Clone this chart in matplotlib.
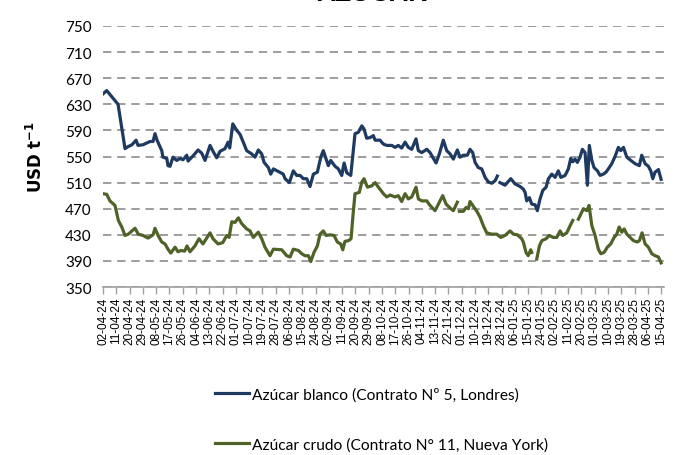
import matplotlib
matplotlib.use("Agg")
import matplotlib.pyplot as plt
import numpy as np
import pandas as pd

# Precios del azucar, USD por tonelada
# dias contados desde el 02-04-2024 (lectura aproximada del grafico original)
inicio = pd.Timestamp("2024-04-02")
fin = pd.Timestamp("2025-04-15")

dias_blanco = [0, 2.5, 10.2, 14.9, 16.9, 19.6, 22.4, 23.7, 27.1, 31.8, 33.9, 35.2, 36.6,
               39.8, 40.6, 43.2, 44.0, 45.4, 47.4, 49.9, 52.2, 54.2, 56.7, 57.6, 61.0,
               64.4, 66.9, 69.1, 72.5, 74.5, 77.0, 79.3, 82.6, 84.7, 85.8, 87.9, 90.6,
               92.8, 95.0, 97.3, 100.7, 103.0, 105.2, 107.5, 109.1, 112.0, 113.6, 115.4,
               118.8, 122.1, 123.3, 126.2, 128.9, 131.2, 133.5, 135.7, 138.0, 140.2,
               142.5, 145.2, 147.5, 149.2, 151.1, 152.6, 154.2, 157.2, 159.4, 161.7,
               163.3, 165.1, 167.8, 170.7, 172.9, 175.3, 176.8, 178.6, 180.9, 183.1,
               184.3, 187.6, 189.9, 192.2, 195.6, 197.8, 200.0, 202.3, 204.6, 206.8,
               209.1, 212.0, 213.6, 215.9, 219.3, 221.5, 223.8, 225.6, 227.8, 230.5,
               232.8, 235.1, 237.3, 240.0, 241.8, 244.1, 246.8, 248.6, 250.4, 252.0,
               254.2, 256.5, 258.8, 261.0, 263.3, 265.6, 267.1, 268.0, 268.9, 272.3,
               276.2, 279.1, 282.5, 284.7, 285.9, 287.0, 288.8, 290.4, 292.7, 294.2,
               296.0, 297.9, 300.1, 301.7, 304.0, 306.2, 308.4, 310.1, 313.0, 315.2,
               316.8, 318.2, 319.7, 321.3, 323.1, 324.7, 326.5, 328.1, 329.4, 331.1,
               332.6, 334.9, 336.7, 338.9, 340.7, 342.3, 344.6, 346.8, 349.1, 350.7,
               352.5, 354.8, 357.5, 360.4, 363.3, 364.9, 367.2, 369.4, 371.0, 372.4,
               373.9, 376.2, 378.0]
blanco = [646, 651, 630, 562, 565, 568, 575, 567, 568, 573, 573, 585, 575,
          559, 549, 547, 536, 535, 549, 544, 547, 545, 552, 543, 551,
          560, 555, 544, 567, 558, 548, 558, 562, 572, 563, 600, 590,
          584, 572, 559, 554, 549, 560, 554, 541, 533, 523, 531,
          527, 523, 516, 510, 528, 521, 521, 516, 516, 504,
          523, 526, 549, 559, 546, 536, 544, 535, 531, 521,
          540, 525, 521, 585, 587, 597, 592, 578, 579, 582,
          575, 575, 569, 567, 567, 564, 567, 563, 572, 564,
          561, 577, 559, 556, 561, 556, 547, 540, 554, 575,
          559, 554, 546, 560, 549, 552, 552, 561, 556, 541,
          533, 531, 518, 511, 509, 513, 520, np.nan, 510, 506,
          516, 508, 504, 500, 495, 482, 487, 477, 476, 467,
          485, 498, 503, 516, 523, 518, 528, 518, 521, 531,
          547, 542, 546, 541, 549, 561, 556, 506, 567, 544,
          533, 528, 521, 523, 526, 531, 539, 550, 564, 559,
          564, 549, 544, 539, 536, 552, 539, 535, 528, 516,
          526, 530, 515]

dias_crudo = [0, 2.5, 4.7, 8.1, 10.4, 12.7, 14.9, 17.1, 21.7, 23.9, 27.1, 30.5, 33.9,
              35.2, 37.3, 39.8, 42.0, 44.0, 45.9, 48.8, 50.8, 52.8, 55.3, 56.9, 58.9,
              62.3, 65.0, 67.7, 72.5, 74.5, 77.9, 81.1, 83.8, 85.4, 87.2, 89.4, 91.7,
              94.0, 97.3, 99.6, 101.8, 105.2, 107.5, 109.7, 113.1, 115.4, 121.1, 124.4,
              126.7, 128.9, 132.3, 134.6, 136.8, 139.1, 140.7, 142.9, 145.2, 147.0,
              149.2, 151.1, 153.8, 156.5, 158.7, 161.0, 162.4, 163.9, 166.2, 168.0,
              169.6, 170.7, 173.6, 175.3, 176.8, 179.1, 182.0, 184.3, 186.5, 187.6,
              189.9, 192.2, 194.4, 197.8, 200.0, 202.3, 204.6, 206.8, 209.1, 212.0,
              213.6, 215.9, 219.3, 221.5, 224.9, 227.8, 230.1, 232.4, 235.1, 237.3,
              240.0, 240.7, 241.4, 244.1, 245.9, 247.5, 248.6, 250.4, 253.2, 255.4,
              257.6, 259.9, 263.3, 266.7, 269.4, 272.3, 275.7, 278.0, 280.7, 283.6,
              284.7, 286.5, 288.0, 289.7, 290.4, 292.0, 293.8, 295.6, 297.2, 300.1,
              302.3, 305.0, 307.4, 309.6, 311.4, 314.1, 316.4, 318.2, 320.0, 322.0,
              325.4, 327.7, 329.2, 331.1, 333.3, 335.5, 337.2, 339.4, 341.6, 343.9,
              346.2, 348.0, 349.6, 351.4, 353.0, 354.8, 357.0, 359.3, 361.9, 363.3,
              365.1, 367.2, 369.4, 371.7, 373.9, 376.2, 378.0]
crudo = [493, 492, 482, 475, 452, 442, 429, 431, 440, 431, 429, 425, 430,
         440, 429, 419, 416, 408, 402, 411, 404, 406, 405, 413, 404,
         413, 424, 416, 433, 424, 416, 418, 429, 426, 450, 449, 456,
         447, 439, 436, 426, 434, 424, 411, 398, 408, 407, 398,
         396, 408, 406, 401, 398, 398, 389, 403, 413, 431,
         436, 429, 430, 429, 419, 416, 407, 420, 421, 424,
         467, 493, 495, 511, 516, 503, 505, 510, 503, 500,
         493, 488, 491, 488, 490, 481, 493, 485, 488, 503,
         485, 482, 482, 475, 467, 480, 490, 477, 471, 467,
         480, np.nan, 466, 466, 472, 470, 481, 475, 466, 457,
         444, 433, 431, 431, 426, 429, 436, 431, 430, 424,
         419, 403, 398, 407, 403, np.nan, 393, 413, 421, 424,
         429, 426, 426, 436, 429, 433, 444, 452, np.nan, 454,
         470, 467, 475, 444, 429, 408, 401, 403, 411, 416,
         426, 431, 442, 434, 439, 431, 426, 421, 419, 421,
         433, 416, 411, 401, 398, 396, 387]

nombre_blanco = "Azúcar blanco (Contrato Nº 5, Londres)"
nombre_crudo = "Azúcar crudo (Contrato N° 11, Nueva York)"

fechas_blanco = inicio + pd.to_timedelta(dias_blanco, unit="D")
fechas_crudo = inicio + pd.to_timedelta(dias_crudo, unit="D")
marcas = pd.date_range(inicio, fin, freq="9D")

fig = plt.figure(figsize=(6.84, 4.56), dpi=100)
ax = fig.add_axes([0.1506, 0.3684, 0.8202, 0.5724])

ax.plot(fechas_blanco, blanco, color="#1f3a60", lw=2.3, label=nombre_blanco)
ax.plot(fechas_crudo, crudo, color="#4f6228", lw=2.3, label=nombre_crudo)

ax.set_ylim(350, 750)
ax.set_yticks(np.arange(350, 751, 40))
ax.set_xlim(inicio, fin + pd.Timedelta(days=2))
ax.set_xticks(marcas)
ax.set_xticklabels([d.strftime("%d-%m-%y") for d in marcas], rotation=90,
                   fontsize=8.5, family="Liberation Sans")

for lab in ax.get_yticklabels():
    lab.set_family("Lato")
    lab.set_fontsize(11)

ax.yaxis.grid(True, color="#8c8c8c", lw=1.2, linestyle=(0, (5, 3.5)))
ax.set_axisbelow(True)
for s in ["top", "right", "left"]:
    ax.spines[s].set_visible(False)
ax.spines["bottom"].set_color("#a0a0a0")
ax.spines["bottom"].set_linewidth(1.2)
ax.tick_params(axis="y", length=0, pad=8)
ax.tick_params(axis="x", direction="out", length=5, color="#a0a0a0", width=1, pad=2)

ax.set_ylabel(r"$\mathbf{USD\ t^{-1}}$", fontsize=12, labelpad=14)

# titulo cortado en el borde superior, como en el original
fig.text(0.544, 0.997, "AZÚCAR", ha="center", va="baseline", fontsize=19,
         weight="bold", family="Liberation Sans")

fig.legend(loc="upper center", bbox_to_anchor=(0.558, 0.180), ncol=1, frameon=False,
           prop={"family": "Lato", "size": 11.2}, handlelength=2.2, handletextpad=0.2,
           labelspacing=2.3)

fig.savefig("out.png", dpi=100)
